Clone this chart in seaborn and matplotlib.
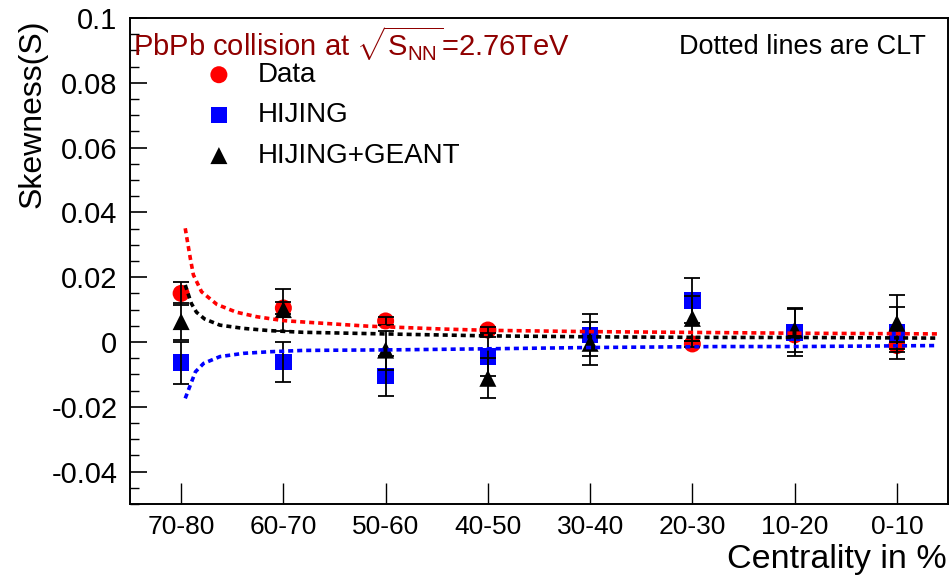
import numpy as np
import pandas as pd
import matplotlib
matplotlib.use("Agg")
import matplotlib.pyplot as plt
import seaborn as sns
from matplotlib.ticker import MultipleLocator, FixedLocator

# ---------------- data ----------------
categories = ['70-80', '60-70', '50-60', '40-50', '30-40', '20-30', '10-20', '0-10']

data_vals = [0.0150, 0.0105, 0.0065, 0.0037, 0.0020, -0.0006, 0.0022, -0.0011]
data_err = [0.0035, 0.0020, 0.0012, 0.0010, 0.0010, 0.0010, 0.0010, 0.0010]

hijing_vals = [-0.0064, -0.0062, -0.0105, -0.0045, 0.0022, 0.0128, 0.0029, 0.0029]
hijing_err = [0.0065, 0.0062, 0.0063, 0.0060, 0.0065, 0.0070, 0.0073, 0.0080]

geant_vals = [0.0063, 0.0100, -0.0025, -0.0112, -0.0004, 0.0073, 0.0037, 0.0058]
geant_err = [0.0058, 0.0065, 0.0060, 0.0062, 0.0067, 0.0070, 0.0067, 0.0088]

# CLT curves (x in category units)
clt_data_x = [0.04, 0.09, 0.12, 0.20, 0.35, 0.54, 0.74, 1.00, 1.23, 1.82, 2.56, 3.00, 4.00, 5.26, 6.04, 7.40]
clt_data_y = [0.0351, 0.0258, 0.0207, 0.0155, 0.0116, 0.0092, 0.0078, 0.0066, 0.0061, 0.0049,
              0.0040, 0.0036, 0.0032, 0.0029, 0.0027, 0.0025]

clt_geant_x = [0.04, 0.10, 0.15, 0.23, 0.38, 0.61, 0.87, 1.19, 2.14, 2.99, 4.00, 5.26, 6.04, 7.40]
clt_geant_y = [0.0176, 0.0119, 0.0092, 0.0071, 0.0052, 0.0042, 0.0035, 0.0030, 0.0024, 0.0019,
               0.0016, 0.0014, 0.0014, 0.0012]

clt_hijing_x = [0.04, 0.09, 0.14, 0.22, 0.38, 0.61, 0.87, 1.19, 2.14, 2.99, 4.00, 5.26, 6.04, 7.40]
clt_hijing_y = [-0.0174, -0.0133, -0.0092, -0.0066, -0.0045, -0.0035, -0.0030, -0.0026, -0.0024,
                -0.0021, -0.0017, -0.0014, -0.0014, -0.0011]

# ---------------- style ----------------
sns.set_theme(style="white")
plt.rcParams['font.family'] = ['Liberation Sans', 'DejaVu Sans']
plt.rcParams['mathtext.fontset'] = 'custom'
plt.rcParams['mathtext.rm'] = 'Liberation Sans'
plt.rcParams['mathtext.it'] = 'Liberation Sans:italic'
plt.rcParams['text.color'] = 'black'
plt.rcParams['axes.labelcolor'] = 'black'
plt.rcParams['xtick.color'] = 'black'
plt.rcParams['ytick.color'] = 'black'

fig = plt.figure(figsize=(9.5, 5.76), dpi=100)
ax = fig.add_axes([130 / 950, 1 - 504 / 576, (948 - 130) / 950, (504 - 18) / 576])

xpos = np.arange(len(categories))
ms = 150

df_d = pd.DataFrame({'x': xpos, 'y': data_vals})
df_h = pd.DataFrame({'x': xpos, 'y': hijing_vals})
df_g = pd.DataFrame({'x': xpos, 'y': geant_vals})

sns.scatterplot(data=df_d, x='x', y='y', ax=ax, marker='o', s=ms, color='#ff0000',
                edgecolor='none', label='Data', zorder=3)
ax.errorbar(xpos, data_vals, yerr=data_err, fmt='none', ecolor='black', elinewidth=1.3,
            capsize=6, capthick=1.3, zorder=3.1)
sns.scatterplot(data=df_h, x='x', y='y', ax=ax, marker='s', s=ms * 0.95, color='#0000ff',
                edgecolor='none', label='HIJING', zorder=4)
ax.errorbar(xpos, hijing_vals, yerr=hijing_err, fmt='none', ecolor='black', elinewidth=1.3,
            capsize=6, capthick=1.3, zorder=4.1)
sns.scatterplot(data=df_g, x='x', y='y', ax=ax, marker='^', s=ms, color='black',
                edgecolor='none', label='HIJING+GEANT', zorder=5)
ax.errorbar(xpos, geant_vals, yerr=geant_err, fmt='none', ecolor='black', elinewidth=1.3,
            capsize=6, capthick=1.3, zorder=5.1)

dash = (0, (1.4, 1.1))
sns.lineplot(x=clt_data_x, y=clt_data_y, ax=ax, color='#ff0000', lw=2.6, linestyle=dash,
             estimator=None, zorder=6, legend=False)
sns.lineplot(x=clt_geant_x, y=clt_geant_y, ax=ax, color='black', lw=2.6, linestyle=dash,
             estimator=None, zorder=6, legend=False)
sns.lineplot(x=clt_hijing_x, y=clt_hijing_y, ax=ax, color='#0000ff', lw=2.6, linestyle=dash,
             estimator=None, zorder=6, legend=False)

ax.set_xlim(-0.5, len(categories) - 0.5)
ax.set_ylim(-0.05, 0.1)
ax.xaxis.set_major_locator(FixedLocator(xpos))
ax.set_xticklabels(categories)
ax.yaxis.set_major_locator(FixedLocator([-0.04, -0.02, 0, 0.02, 0.04, 0.06, 0.08, 0.1]))
ax.set_yticklabels(['-0.04', '-0.02', '0', '0.02', '0.04', '0.06', '0.08', '0.1'])
ax.yaxis.set_minor_locator(MultipleLocator(0.005))
ax.tick_params(axis='y', which='major', direction='in', length=12, width=1.2, labelsize=21,
               pad=9, left=True, right=False)
ax.tick_params(axis='y', which='minor', direction='in', length=6.5, width=1.0, left=True, right=False)
ax.tick_params(axis='x', which='major', direction='in', length=15, width=1.0, labelsize=19,
               pad=8, bottom=True, top=False)
for sp in ax.spines.values():
    sp.set_visible(True)
    sp.set_color('black')
    sp.set_linewidth(1.4)
ax.set_xlabel('')
ax.set_ylabel('')
ax.grid(False)

fig.text(33 / 950, 1 - 19 / 576, 'Skewness(S)', rotation=90, ha='center', va='top', fontsize=23)
fig.text(947 / 950, 1 - 568 / 576, 'Centrality in %', ha='right', va='baseline', fontsize=24.5)

fig.text(133 / 950, 1 - 56 / 576, r'PbPb collision at $\sqrt{\mathrm{S}_{\mathrm{NN}}}$=2.76TeV',
         ha='left', va='baseline', fontsize=21, color='#8f0000')
fig.text(926 / 950, 1 - 47 / 576, 'Dotted lines are CLT', ha='right', va='center', fontsize=19.5,
         color='black')

leg = ax.legend(loc='upper left', bbox_to_anchor=(205 / 950, 1 - 62 / 576),
                bbox_transform=fig.transFigure, frameon=False, fontsize=20,
                handlelength=1.0, handletextpad=0.9, labelspacing=0.52, borderpad=0,
                borderaxespad=0)
for t in leg.get_texts():
    t.set_color('black')

fig.savefig('out.png', dpi=100)
